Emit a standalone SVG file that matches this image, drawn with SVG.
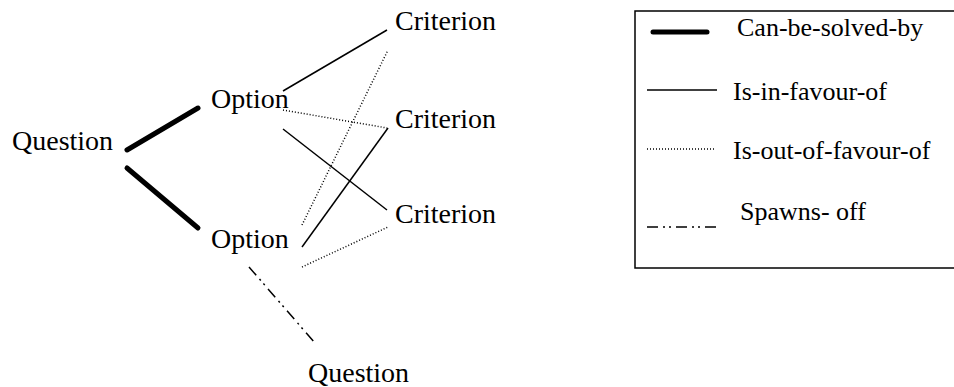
<svg xmlns="http://www.w3.org/2000/svg" width="954" height="387" viewBox="0 0 954 387" font-family="'Liberation Serif', 'DejaVu Serif', serif">
  <style>
    .node { font-family: 'Liberation Serif', 'DejaVu Serif', serif; font-size: 28px; fill: #000; }
    .leg { font-family: 'Liberation Serif', 'DejaVu Serif', serif; font-size: 26px; fill: #000; }
    .solve { stroke: #000; stroke-width: 5; stroke-linecap: round; fill: none; }
    .favour { stroke: #000; stroke-width: 1.5; fill: none; }
    .against { stroke: #000; stroke-width: 1.5; stroke-dasharray: 1 2; fill: none; }
    .spawn { stroke: #000; stroke-width: 1.5; stroke-dasharray: 11 5 2 4 2 5; fill: none; }
  </style>
  <rect width="954" height="387" fill="#fff"/>

  <!-- relations between nodes -->
  <g id="connectors">
    <line class="solve" x1="127" y1="150" x2="198" y2="108"/>
    <line class="solve" x1="127" y1="168" x2="198" y2="228"/>
    <line class="favour" x1="283" y1="91" x2="387" y2="30"/>
    <line class="against" x1="283" y1="110" x2="387" y2="128"/>
    <line class="favour" x1="283" y1="129" x2="387" y2="210"/>
    <line class="against" x1="302" y1="225" x2="388" y2="50"/>
    <line class="favour" x1="302" y1="247" x2="388" y2="128"/>
    <line class="against" x1="302" y1="267" x2="388" y2="227"/>
    <line class="spawn" x1="249" y1="267" x2="315" y2="343"/>
  </g>

  <g id="question-root"><text class="node" x="12" y="150">Question</text></g>
  <g id="option-1"><text class="node" x="211" y="108">Option</text></g>
  <g id="option-2"><text class="node" x="211" y="248">Option</text></g>
  <g id="criterion-1"><text class="node" x="395" y="30">Criterion</text></g>
  <g id="criterion-2"><text class="node" x="395" y="128">Criterion</text></g>
  <g id="criterion-3"><text class="node" x="395" y="223">Criterion</text></g>
  <g id="question-spawned"><text class="node" x="308" y="382">Question</text></g>

  <!-- key to the line styles -->
  <g id="legend">
    <rect x="635" y="11" width="330" height="257" fill="none" stroke="#000" stroke-width="1.5"/>
    <line class="solve" x1="653" y1="32" x2="707" y2="32"/>
    <text class="leg" x="737" y="36">Can-be-solved-by</text>
    <line class="favour" x1="647" y1="90" x2="717" y2="90"/>
    <text class="leg" x="733" y="100">Is-in-favour-of</text>
    <line class="against" x1="647" y1="149" x2="716" y2="149"/>
    <text class="leg" x="733" y="159">Is-out-of-favour-of</text>
    <line class="spawn" x1="647" y1="227" x2="717" y2="227"/>
    <text class="leg" x="740" y="220">Spawns- off</text>
  </g>
</svg>
